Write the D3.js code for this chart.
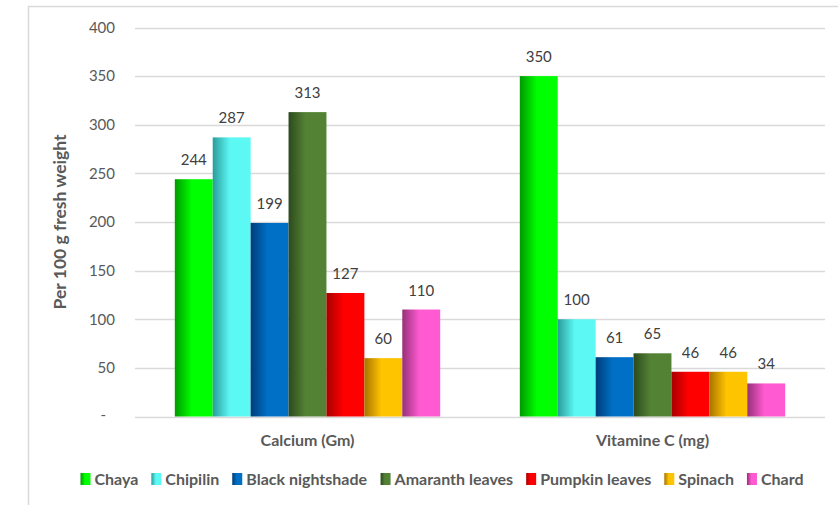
<!DOCTYPE html>
<html>
<head>
<meta charset="utf-8">
<script src="https://cdn.jsdelivr.net/npm/d3@7"></script>
<style>
  html, body { margin: 0; padding: 0; background: #fff; }
  svg { display: block; font-family: Lato, "Open Sans", sans-serif; }
</style>
</head>
<body>
<svg id="chart" width="838" height="505"></svg>
<script>
// Nutrient groups on the x axis
const nutrients = ["Calcium (Gm)", "Vitamine C (mg)"];
// Leafy vegetables (one bar per vegetable in each group)
const vegetables = ["Chaya", "Chipilin", "Black nightshade", "Amaranth leaves", "Pumpkin leaves", "Spinach", "Chard"];
// Values per 100 g fresh weight, by vegetable: [calcium, vitamin C]
const chaya = [244, 350];
const chipilin = [287, 100];
const blackNightshade = [199, 61];
const amaranthLeaves = [313, 65];
const pumpkinLeaves = [127, 46];
const spinach = [60, 46];
const chard = [110, 34];
const yTicks = [0, 50, 100, 150, 200, 250, 300, 350, 400];

const series = [chaya, chipilin, blackNightshade, amaranthLeaves, pumpkinLeaves, spinach, chard];
// Gradient stops (dark left edge -> bright body) for each vegetable
const shades = [
  ["#009a00", "#00ff00"],
  ["#2a9c9c", "#5cf8f4"],
  ["#003c78", "#0070c6"],
  ["#2c4a1c", "#548235"],
  ["#a80000", "#ff0000"],
  ["#a87400", "#ffc400"],
  ["#963078", "#ff5ad2"]
];

const svg = d3.select("#chart");
const margin = { left: 135, right: 13, top: 27.5, bottom: 88.5 };
const W = 838, H = 505;

// Outer chart frame
svg.append("rect")
  .attr("x", 28.5).attr("y", 6.5)
  .attr("width", W).attr("height", H)
  .attr("fill", "none").attr("stroke", "#d9d9d9").attr("stroke-width", 1.5);

const defs = svg.append("defs");
shades.forEach((s, i) => {
  const g = defs.append("linearGradient").attr("id", "grad" + i)
    .attr("x1", "0%").attr("x2", "100%").attr("y1", "0%").attr("y2", "0%");
  g.append("stop").attr("offset", "0%").attr("stop-color", s[0]);
  g.append("stop").attr("offset", "45%").attr("stop-color", s[1]);
  g.append("stop").attr("offset", "100%").attr("stop-color", s[1]);
});

const x0 = d3.scaleBand().domain(nutrients)
  .range([margin.left, W - margin.right]).paddingInner(0).paddingOuter(0);
const x1 = d3.scaleBand().domain(vegetables)
  .range([0, x0.bandwidth()]).paddingInner(0).paddingOuter(1.05);
const y = d3.scaleLinear().domain([0, 400]).range([H - margin.bottom, margin.top]);

// Horizontal gridlines
svg.append("g").selectAll("line").data(yTicks).join("line")
  .attr("x1", margin.left).attr("x2", W - margin.right)
  .attr("y1", d => Math.round(y(d)) + 0.5).attr("y2", d => Math.round(y(d)) + 0.5)
  .attr("stroke", "#d9d9d9").attr("stroke-width", 1.5);

// Y axis labels
const yAxis = d3.axisLeft(y).tickValues(yTicks).tickSize(0).tickPadding(0)
  .tickFormat(d => d === 0 ? "-" : d);
const yg = svg.append("g").attr("transform", `translate(${margin.left - 20},0)`).call(yAxis);
yg.select(".domain").remove();
yg.selectAll("text").attr("fill", "#595959").style("font-size", "15px")
  .style("font-family", "Lato, sans-serif");
yg.selectAll(".tick").filter(d => d === 0).select("text").attr("dx", -9).attr("dy", "0.2em");

// Y axis title
svg.append("text")
  .attr("transform", `translate(66,${(margin.top + H - margin.bottom) / 2}) rotate(-90)`)
  .attr("text-anchor", "middle").attr("fill", "#595959")
  .style("font-size", "17.5px").style("font-weight", "bold")
  .text("Per 100 g fresh weight");

// Bars
const groups = svg.append("g").selectAll("g").data(nutrients).join("g")
  .attr("transform", d => `translate(${x0(d)},0)`);

groups.selectAll("rect")
  .data((n, ni) => vegetables.map((v, vi) => ({ v, vi, value: series[vi][ni] })))
  .join("rect")
  .attr("x", d => x1(d.v))
  .attr("width", x1.bandwidth())
  .attr("y", d => y(d.value))
  .attr("height", d => y(0) - y(d.value))
  .attr("fill", d => `url(#grad${d.vi})`);

// Value labels
groups.selectAll("text.val")
  .data((n, ni) => vegetables.map((v, vi) => ({ v, vi, value: series[vi][ni] })))
  .join("text").attr("class", "val")
  .attr("x", d => x1(d.v) + x1.bandwidth() / 2)
  .attr("y", d => y(d.value) - 14)
  .attr("text-anchor", "middle").attr("fill", "#404040")
  .style("font-size", "15px")
  .text(d => d.value);

// Category labels
svg.append("g").selectAll("text").data(nutrients).join("text")
  .attr("x", d => x0(d) + x0.bandwidth() / 2)
  .attr("y", y(0) + 29)
  .attr("text-anchor", "middle").attr("fill", "#595959")
  .style("font-size", "16px").style("font-weight", "bold")
  .text(d => d);

// Legend
const legend = svg.append("g");
const items = legend.selectAll("g").data(vegetables).join("g");
items.append("rect").attr("width", 10).attr("height", 12).attr("y", -12)
  .attr("fill", (d, i) => `url(#grad${i})`);
items.append("text").attr("x", 14).attr("fill", "#595959")
  .style("font-size", "16px").style("font-weight", "bold")
  .text(d => d);
let cx = 0;
const gap = 13;
items.each(function () {
  const w = this.getBBox().width;
  d3.select(this).attr("transform", `translate(${cx},0)`);
  cx += w + gap;
});
const total = cx - gap;
legend.attr("transform", `translate(${442 - total / 2},485)`);
</script>
</body>
</html>
